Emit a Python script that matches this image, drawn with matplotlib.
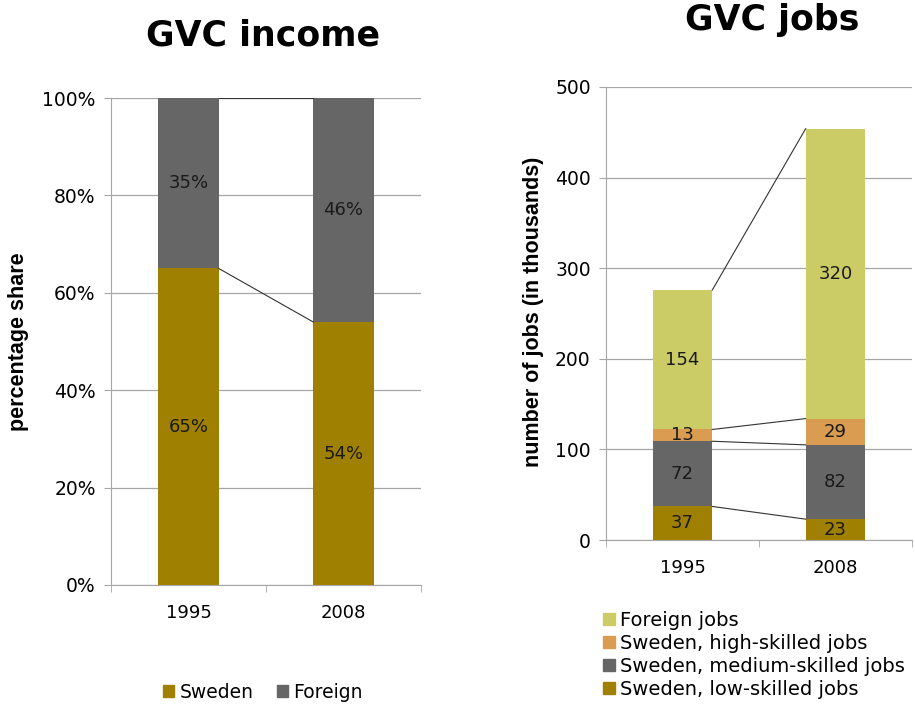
import matplotlib
matplotlib.use("Agg")
import matplotlib.pyplot as plt
from matplotlib.patches import Patch
import numpy as np

plt.rcParams['font.family'] = ['DejaVu Sans']

years = ['1995', '2008']

# GVC income, percentage share
income_labels = ['Sweden', 'Foreign']
income_sweden = [65, 54]
income_foreign = [35, 46]

# GVC jobs, thousands
jobs_labels = ['Sweden, low-skilled jobs', 'Sweden, medium-skilled jobs',
               'Sweden, high-skilled jobs', 'Foreign jobs']
jobs_low = [37, 23]
jobs_medium = [72, 82]
jobs_high = [13, 29]
jobs_foreign = [154, 320]

gold = '#A08000'
grey = '#666666'
orange = '#D99C50'
light = '#CCCC66'
gridc = '#A6A6A6'
fs = 13

W, H = 915, 709
fig = plt.figure(figsize=(W / 100, H / 100), dpi=100)

def ax_at(x0, x1, ytop, ybot):
    return fig.add_axes([x0 / W, 1 - ybot / H, (x1 - x0) / W, (ybot - ytop) / H])

ax1 = ax_at(111, 421, 98, 585)
ax2 = ax_at(606, 912, 87, 540)

bw = 0.39
x = np.arange(len(years))


def style(ax, ymax, step):
    ax.set_xlim(-0.5, 1.5)
    ax.set_ylim(0, ymax)
    ax.set_yticks(np.arange(0, ymax + 1, step))
    ax.grid(axis='y', color=gridc, lw=0.9)
    ax.set_axisbelow(True)
    for s in ['top', 'right']:
        ax.spines[s].set_visible(False)
    ax.spines['left'].set_color(gridc)
    ax.spines['bottom'].set_color(gridc)
    ax.set_xticks(x)
    ax.set_xticklabels(years)
    ax.set_xticks([-0.5, 0.5, 1.5], minor=True)
    ax.tick_params(axis='x', which='major', length=0, labelsize=fs, pad=14)
    ax.tick_params(axis='x', which='minor', length=5, color=gridc)
    ax.tick_params(axis='y', length=5, color=gridc, labelsize=13.5, pad=6)


def stack(ax, series, colors, suffix):
    bottom = np.zeros(len(years))
    tops = []
    for vals, c in zip(series, colors):
        vals = np.array(vals, dtype=float)
        ax.bar(x, vals, bw, bottom=bottom, color=c, zorder=2)
        for xi, b, v in zip(x, bottom, vals):
            ax.text(xi, b + v / 2, f'{v:g}' + suffix, ha='center', va='center',
                    fontsize=fs, color='#1a1a1a', zorder=3)
        bottom = bottom + vals
        tops.append(bottom.copy())
    for t in tops:
        ax.plot([bw / 2, 1 - bw / 2], [t[0], t[1]], color='#333333', lw=0.8, zorder=3)


# left chart
style(ax1, 100, 20)
ax1.set_yticklabels([f'{v}%' for v in range(0, 101, 20)])
stack(ax1, [income_sweden, income_foreign], [gold, grey], '%')

# right chart
style(ax2, 500, 100)
stack(ax2, [jobs_low, jobs_medium, jobs_high, jobs_foreign], [gold, grey, orange, light], '')

fig.text(263 / W, 1 - 35 / H, 'GVC income', ha='center', va='center',
         fontsize=25, fontweight='bold')
fig.text(772 / W, 1 - 20 / H, 'GVC jobs', ha='center', va='center',
         fontsize=25, fontweight='bold')
fig.text(19 / W, 1 - 342 / H, 'percentage share', rotation=90, ha='center',
         va='center', fontsize=15.5, fontweight='bold', family='Liberation Sans')
fig.text(534 / W, 1 - 312 / H, 'number of jobs (in thousands)', rotation=90,
         ha='center', va='center', fontsize=15.5, fontweight='bold',
         family='Liberation Sans')

h1 = [Patch(color=c) for c in [gold, grey]]
fig.legend(h1, income_labels, loc='center', bbox_to_anchor=(263 / W, 1 - 692 / H),
           ncol=2, frameon=False, fontsize=13.5, handlelength=0.6, handleheight=0.6,
           handletextpad=0.3, columnspacing=1.2)

h2 = [Patch(color=c) for c in [light, orange, grey, gold]]
fig.legend(h2, jobs_labels[::-1], loc='center left',
           bbox_to_anchor=(603 / W, 1 - 655 / H), frameon=False, fontsize=14,
           handlelength=0.6, handleheight=0.6, handletextpad=0.3,
           labelspacing=0.2, borderaxespad=0, borderpad=0)

fig.savefig('out.png', dpi=100)
